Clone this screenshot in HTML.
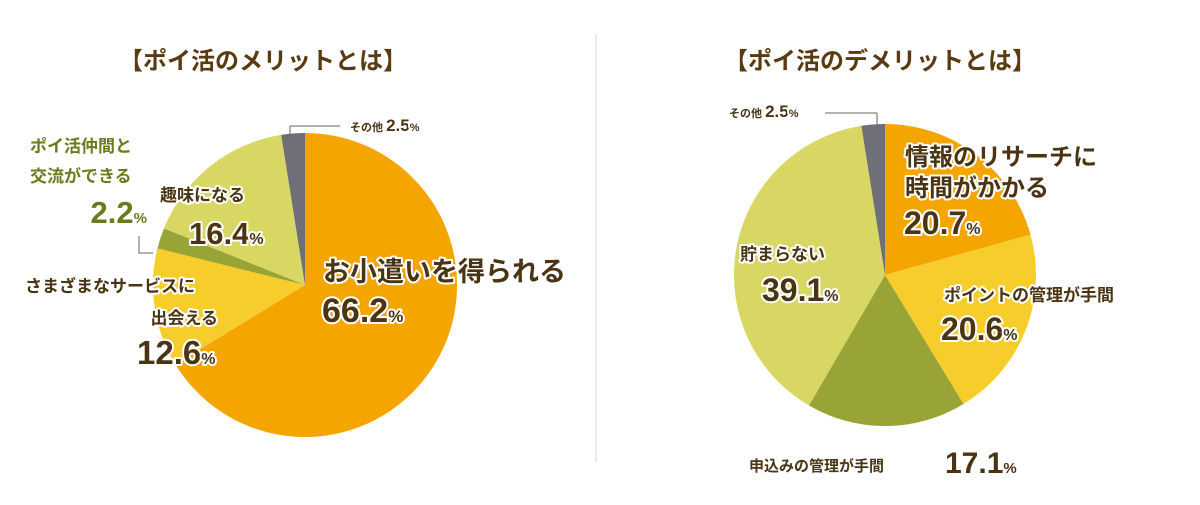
<!DOCTYPE html>
<html><head><meta charset="utf-8"><style>
body{margin:0;background:#fff;}
svg text{font-family:"Liberation Sans","Noto Sans CJK JP",sans-serif;font-weight:bold;}
.lbl{fill:#4a3414;stroke:#fff;stroke-width:4;paint-order:stroke;stroke-linejoin:round;}
.olv{fill:#6b7a1c;}
</style></head><body>
<svg width="1200" height="500" viewBox="0 0 1200 500">
<rect width="1200" height="500" fill="#fff"/>
<line x1="596" y1="35" x2="596" y2="462" stroke="#e4e4e4" stroke-width="1.5"/>
<text x="263" y="69" font-size="24" fill="#5a3a10" text-anchor="middle">【ポイ活のメリットとは】</text>
<text x="880" y="69" font-size="24" fill="#5a3a10" text-anchor="middle">【ポイ活のデメリットとは】</text>
<g id="left"></g>
<g id="right"></g>
<!-- left labels -->
<line x1="290" y1="136" x2="290" y2="126" stroke="#666"/><line x1="290" y1="126" x2="340" y2="126" stroke="#666"/>
<text x="350" y="131" font-size="11" class="lbl">その他 <tspan font-size="17">2.5</tspan><tspan font-size="11">%</tspan></text>
<text x="30" y="152" font-size="17" class="olv">ポイ活仲間と</text>
<text x="30" y="182" font-size="17" class="olv">交流ができる</text>
<text x="147" y="223" font-size="31" class="olv" text-anchor="end">2.2<tspan font-size="15">%</tspan></text>
<polyline points="139,236 139,253 153,253" fill="none" stroke="#666"/>
<text x="160" y="201" font-size="17" class="lbl" fill="#4a5a10">趣味になる</text>
<text x="189" y="244" font-size="31" class="lbl">16.4<tspan font-size="16">%</tspan></text>
<text x="25" y="292" font-size="17" class="lbl">さまざまなサービスに</text>
<text x="218" y="324" font-size="17" class="lbl" text-anchor="end">出会える</text>
<text x="137" y="364" font-size="33" class="lbl">12.6<tspan font-size="16">%</tspan></text>
<text x="323" y="281" font-size="27" class="lbl">お小遣いを得られる</text>
<text x="322" y="322" font-size="34" class="lbl">66.2<tspan font-size="17">%</tspan></text>
<!-- right labels -->
<line x1="877" y1="125" x2="877" y2="113" stroke="#666"/><line x1="877" y1="113" x2="825" y2="113" stroke="#666"/>
<text x="729" y="117" font-size="11" class="lbl">その他 <tspan font-size="17">2.5</tspan><tspan font-size="11">%</tspan></text>
<text x="905" y="165" font-size="24" class="lbl">情報のリサーチに</text>
<text x="905" y="196" font-size="24" class="lbl">時間がかかる</text>
<text x="904" y="234" font-size="32" class="lbl">20.7<tspan font-size="16">%</tspan></text>
<text x="944" y="301" font-size="17" class="lbl">ポイントの管理が手間</text>
<text x="941" y="340" font-size="32" class="lbl">20.6<tspan font-size="16">%</tspan></text>
<text x="740" y="260" font-size="17" class="lbl" fill="#4a5a10">貯まらない</text>
<text x="762" y="301" font-size="32" class="lbl">39.1<tspan font-size="16">%</tspan></text>
<text x="749" y="471" font-size="15" class="lbl">申込みの管理が手間</text>
<text x="945" y="473" font-size="30" class="lbl">17.1<tspan font-size="15">%</tspan></text>
</svg>
<script>
const leftCategories=["お小遣いを得られる","さまざまなサービスに出会える","ポイ活仲間と交流ができる","趣味になる","その他"];
const leftValues=[66.2,12.6,2.2,16.4,2.5];
const rightCategories=["情報のリサーチに時間がかかる","ポイントの管理が手間","申込みの管理が手間","貯まらない","その他"];
const rightValues=[20.7,20.6,17.1,39.1,2.5];
const leftColors=["#f5a500","#f7cd2c","#99a436","#d8d763","#6f6f79"];
const rightColors=["#f5a500","#f7cd2c","#99a436","#d8d763","#6f6f79"];
function drawPie(gid,vals,cats,cols,cx,cy,r,prefix){
  const g=document.getElementById(gid);
  const tot=vals.reduce((a,b)=>a+b,0);
  let a0=-Math.PI/2;
  vals.forEach((v,i)=>{
    const a1=a0+v/tot*Math.PI*2;
    const x0=cx+r*Math.cos(a0),y0=cy+r*Math.sin(a0),x1=cx+r*Math.cos(a1),y1=cy+r*Math.sin(a1);
    const p=document.createElementNS("http://www.w3.org/2000/svg","path");
    p.setAttribute("d",`M${cx},${cy}L${x0},${y0}A${r},${r} 0 ${(a1-a0)>Math.PI?1:0} 1 ${x1},${y1}Z`);
    p.setAttribute("fill",cols[i]);
    
    
    const t=document.createElementNS("http://www.w3.org/2000/svg","title");t.textContent=cats[i]+" "+v+"%";p.appendChild(t);
    g.appendChild(p);
    a0=a1;
  });
}
drawPie("left",leftValues,leftCategories,leftColors,305,285,152,"left");
drawPie("right",rightValues,rightCategories,rightColors,885,275,151,"right");
</script>
</body></html>
